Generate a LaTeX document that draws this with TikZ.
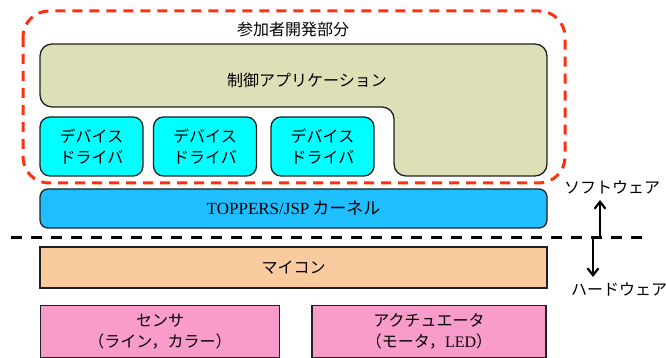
\documentclass[tikz,border=0pt]{standalone}
\usepackage{fontspec}
\setmainfont{Liberation Serif}
\newfontfamily\jp{Noto Sans CJK JP}
\usetikzlibrary{arrows.meta}
\definecolor{appfill}{HTML}{DFDFB7}
\definecolor{drvfill}{HTML}{00FFFF}
\definecolor{kerfill}{HTML}{1FBFFF}
\definecolor{mcufill}{HTML}{FBCBA0}
\definecolor{hwfill}{HTML}{F99BCB}
\definecolor{reddash}{HTML}{FF3010}
\definecolor{edge}{HTML}{202020}
\tikzset{
  jptext/.style={font={\fontsize{16}{21.5}\selectfont\jp}},
  box/.style={draw=edge, line width=1.3pt, inner sep=0pt, align=center, jptext},
  drvbox/.style={box, fill=drvfill, rounded corners=10pt, minimum width=103pt, minimum height=59pt},
  widebox/.style={box, minimum width=507pt},
  updown/.style={line width=2.6pt, -{Straight Barb[length=7pt,width=11pt,line width=2.2pt]}},
}
\begin{document}
\begin{tikzpicture}[x=1pt,y=-1pt]
\useasboundingbox (0,0) rectangle (666,358);
% participant area
\draw[reddash, line width=3pt, dash pattern=on 10pt off 7pt, rounded corners=26pt] (23,11) rectangle (565,183);
\node[jptext] (title) at (293,29) {参加者開発部分};
% control application (L shape)
\path[draw=edge, line width=1.3pt, fill=appfill] (394,140) [rounded corners=12pt] -- (394,176) -- (547,176) -- (547,44) -- (40,44) -- (40,107) -- (394,107) [sharp corners] -- cycle;
\node[jptext] (app) at (307,80) {制御アプリケーション};
% device drivers
\node[drvbox] (d1) at (91.5,146.5) {デバイス\\ドライバ};
\node[drvbox] (d2) at (205,146.5) {デバイス\\ドライバ};
\node[drvbox] (d3) at (322.5,146.5) {デバイス\\ドライバ};
% kernel
\node[widebox, fill=kerfill, rounded corners=8pt, minimum height=39pt] (kernel) at (293.5,208.5) {\fontsize{17}{20}\selectfont{\rmfamily TOPPERS/JSP}\,カーネル};
% boundary
\coordinate (bl) at (11,237);
\coordinate (br) at (646,237);
\draw[line width=3pt, dash pattern=on 11pt off 9pt] (bl) -- (br);
% mcu
\node[widebox, fill=mcufill, minimum height=41pt] (mcu) at (293.5,267.5) {マイコン};
% hardware
\node[box, fill=hwfill, minimum width=239pt, minimum height=52pt] (sensor) at (160,331.5) {センサ\\（ライン，カラー）};
\node[box, fill=hwfill, minimum width=234pt, minimum height=52pt] (act) at (429,331.5) {アクチュエータ\\（モータ，{\rmfamily LED}）};
% software/hardware arrows
\node[jptext] (sw) at (612,187) {ソフトウェア};
\node[jptext] (hw) at (619,289) {ハードウェア};
\coordinate (a0) at (600,237);
\coordinate (a1) at (600,200);
\coordinate (b0) at (593,237);
\coordinate (b1) at (593,277);
\draw[updown] (a0) -- (a1);
\draw[updown] (b0) -- (b1);
\end{tikzpicture}
\end{document}
